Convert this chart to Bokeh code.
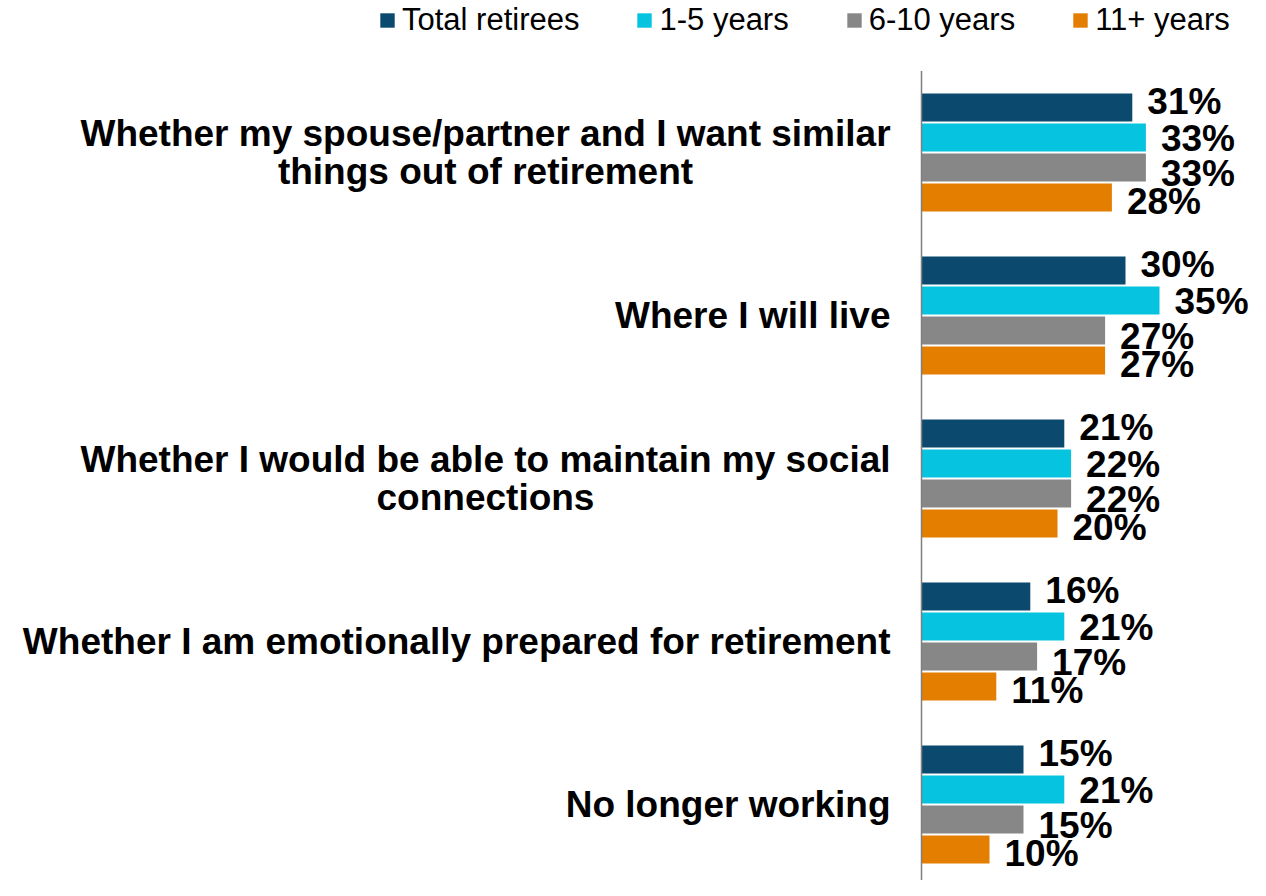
from bokeh.plotting import figure
from bokeh.models import ColumnDataSource, Range1d, Legend, LegendItem
from bokeh.embed import file_html
from bokeh.resources import INLINE
from bokeh.core.properties import value
import numpy as np

# ---------------- data ----------------
categories = [
    "Whether my spouse/partner and I want similar\nthings out of retirement",
    "Where I will live",
    "Whether I would be able to maintain my social\nconnections",
    "Whether I am emotionally prepared for retirement",
    "No longer working",
]
series_names = ["Total retirees", "1-5 years", "6-10 years", "11+ years"]
total_retirees = [31, 30, 21, 16, 15]
years_1_5 = [33, 35, 22, 21, 21]
years_6_10 = [33, 27, 22, 17, 15]
years_11_plus = [28, 27, 20, 11, 10]
series_values = [total_retirees, years_1_5, years_6_10, years_11_plus]
colors = ["#0B4A6E", "#06C3DF", "#878787", "#E37E00"]

# ---------------- layout ----------------
W, H = 1250, 880
PX_PER_PCT = 6.8
ORIGIN_PX = 921
CAT_PX = 163
FIRST_CENTER_PX = 152
BAR_PITCH_PX = 30
BAR_H_PX = 28
LABEL_DY = [-6, 1, 6, 4]
FONT = value("Liberation Sans")

n = len(categories)
y_bottom = (n - 1) + (H - FIRST_CENTER_PX - (n - 1) * CAT_PX) / CAT_PX
y_top = -FIRST_CENTER_PX / CAT_PX

p = figure(width=W, height=H, output_backend="svg", toolbar_location=None,
           x_range=Range1d(-ORIGIN_PX / PX_PER_PCT, (W - ORIGIN_PX) / PX_PER_PCT),
           y_range=Range1d(y_bottom, y_top),
           x_axis_location=None, y_axis_location=None, min_border=0)
p.outline_line_color = None
p.grid.visible = False
p.background_fill_color = "white"

idx = np.arange(n)
pitch = BAR_PITCH_PX / CAT_PX
bar_h = BAR_H_PX / CAT_PX

renderers = []
for k, (name, vals, col) in enumerate(zip(series_names, series_values, colors)):
    yk = idx + (k - 1.5) * pitch
    src = ColumnDataSource(dict(y=yk, right=vals, label=[f"{v}%" for v in vals]))
    r = p.hbar(y="y", left=0, right="right", height=bar_h, fill_color=col,
               line_color=None, source=src)
    renderers.append(r)
    p.text(x="right", y="y", text="label", x_offset=15, y_offset=LABEL_DY[k],
           text_font=FONT, text_font_style="bold", text_font_size="37px",
           text_align="left", text_baseline="middle", text_color="black", source=src)

# axis line
p.segment(x0=[0], y0=[-0.5], x1=[0], y1=[n - 0.5], line_color="#7F7F7F", line_width=1.5)

# category labels
single = [i for i, c in enumerate(categories) if "\n" not in c]
multi = [i for i, c in enumerate(categories) if "\n" in c]
p.text(x=[0] * len(single), y=[float(i) for i in single], text=[categories[i] for i in single],
       x_offset=-31, text_align="right", text_baseline="middle",
       text_font=FONT, text_font_style="bold", text_font_size="37px", text_color="black")
p.text(x=[0] * len(multi), y=[float(i) for i in multi], text=[categories[i] for i in multi],
       x_offset=-436, text_align="center", text_baseline="middle", text_line_height=0.95,
       text_font=FONT, text_font_style="bold", text_font_size="37px", text_color="black")

legend = Legend(items=[LegendItem(label=nm, renderers=[r]) for nm, r in zip(series_names, renderers)],
                orientation="horizontal", location=(378, 842),
                label_text_font="Liberation Sans", label_text_font_size="31px",
                label_text_color="black",
                glyph_width=18, glyph_height=18, label_standoff=6, spacing=56,
                padding=0, margin=0, border_line_color=None, background_fill_alpha=0)
p.add_layout(legend)

open("out.html", "w").write(file_html(p, INLINE))
